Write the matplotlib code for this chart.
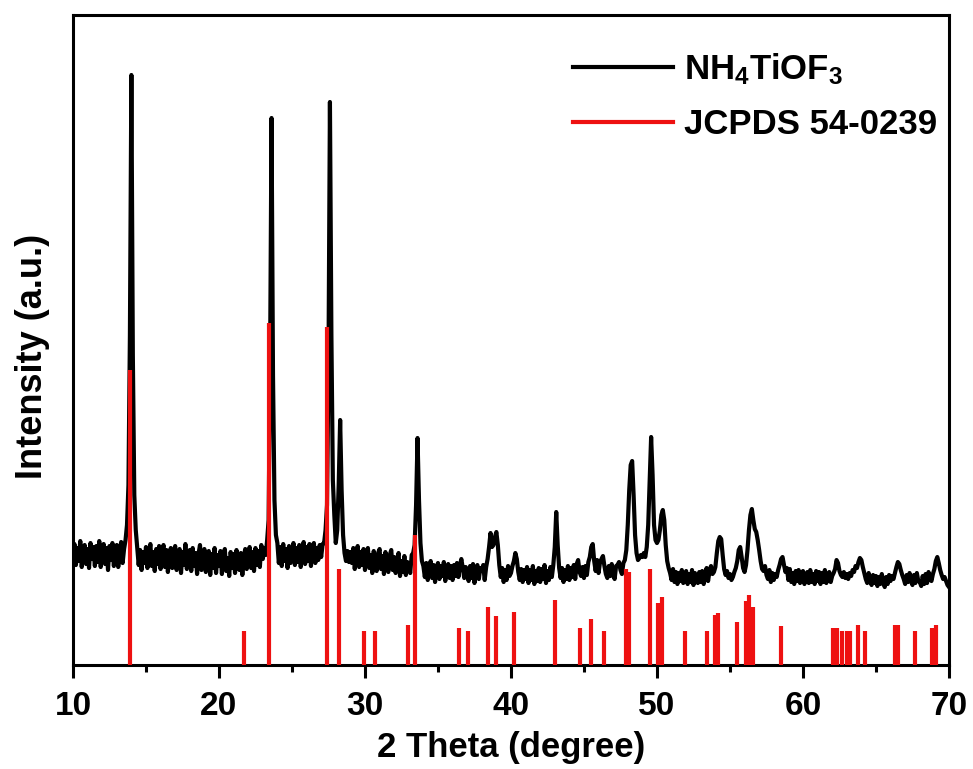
import numpy as np
import matplotlib
matplotlib.use("Agg")
import matplotlib.pyplot as plt
from matplotlib.ticker import MultipleLocator

plt.rcParams["font.family"] = ["Liberation Sans", "DejaVu Sans"]
plt.rcParams["font.weight"] = "bold"
plt.rcParams["mathtext.fontset"] = "custom"
plt.rcParams["mathtext.rm"] = "Liberation Sans:bold"
plt.rcParams["mathtext.bf"] = "Liberation Sans:bold"
plt.rcParams["mathtext.default"] = "bf"

# measured pattern, 2theta from 10.0 to 70.0 in 0.1 deg steps (one row per degree)
two_theta = np.round(np.arange(10.0, 70.05, 0.1), 1)
intensity = [
    108, 121, 100, 117, 104, 124, 98, 113, 120, 101,
    116, 97, 122, 106, 118, 99, 119, 103, 124, 98,
    114, 121, 101, 117, 95, 119, 105, 122, 99, 115,
    120, 98, 112, 123, 102, 116, 125, 140, 180, 330,
    590, 310, 170, 135, 118, 100, 115, 95, 113, 102,
    118, 97, 110, 121, 99, 113, 94, 116, 101, 119,
    96, 112, 120, 98, 115, 93, 109, 117, 97, 111,
    119, 95, 110, 116, 92, 113, 100, 121, 96, 109,
    115, 94, 117, 99, 112, 91, 111, 120, 95, 108,
    116, 93, 109, 114, 90, 111, 97, 117, 92, 110,
    99, 114, 91, 109, 116, 94, 107, 89, 113, 97,
    111, 92, 115, 98, 95, 112, 90, 108, 116, 96,
    103, 118, 97, 113, 94, 117, 100, 114, 98, 120,
    106, 117, 110, 125, 145, 300, 547, 290, 165, 130,
    122, 102, 118, 99, 121, 104, 116, 97, 119, 102,
    107, 122, 100, 117, 103, 120, 98, 115, 123, 101,
    118, 104, 121, 99, 116, 122, 102, 117, 105, 120,
    108, 121, 122, 135, 160, 300, 563, 330, 185, 150,
    122, 135, 180, 245, 175, 130, 112, 104, 114, 103,
    113, 102, 117, 96, 111, 119, 98, 113, 100, 116,
    95, 111, 117, 97, 110, 92, 114, 99, 94, 112,
    116, 96, 109, 91, 113, 98, 93, 110, 115, 95,
    108, 92, 105, 112, 89, 104, 93, 109, 90, 103,
    98, 92, 110, 112, 120, 160, 227, 165, 122, 104,
    99, 88, 102, 85, 98, 104, 87, 100, 83, 97,
    102, 86, 99, 89, 103, 84, 98, 101, 87, 99,
    85, 100, 89, 102, 88, 99, 106, 97, 87, 98,
    95, 84, 99, 87, 101, 82, 96, 100, 86, 97,
    94, 100, 85, 98, 106, 118, 132, 118, 120, 128,
    133, 120, 100, 88, 97, 83, 95, 85, 99, 89,
    92, 99, 104, 112, 106, 93, 85, 96, 83, 95,
    86, 98, 82, 95, 85, 99, 81, 94, 84, 97,
    83, 96, 86, 100, 82, 94, 85, 98, 88, 100,
    118, 153, 120, 97, 87, 97, 83, 95, 86, 99,
    85, 97, 88, 100, 86, 101, 105, 93, 89, 98,
    87, 99, 90, 103, 108, 118, 121, 104, 94, 105,
    92, 103, 106, 109, 99, 91, 87, 99, 89, 101,
    90, 86, 99, 100, 103, 95, 91, 102, 105, 115,
    140, 175, 200, 204, 170, 130, 112, 105, 107, 110,
    108, 112, 108, 118, 140, 185, 228, 190, 140, 125,
    122, 125, 135, 150, 155, 145, 120, 104, 97, 92,
    85, 96, 83, 93, 81, 92, 84, 95, 82, 91,
    94, 81, 91, 83, 95, 80, 92, 84, 82, 93,
    83, 94, 81, 91, 97, 84, 94, 99, 91, 93,
    98, 112, 124, 128, 126, 110, 96, 90, 94, 87,
    91, 85, 88, 93, 97, 104, 115, 118, 108, 97,
    93, 100, 115, 135, 150, 156, 145, 136, 133, 125,
    115, 104, 96, 94, 99, 90, 86, 95, 83, 92,
    85, 91, 88, 95, 100, 106, 108, 100, 93, 97,
    85, 96, 83, 92, 81, 94, 84, 95, 82, 91,
    94, 81, 90, 93, 82, 95, 83, 91, 81, 94,
    84, 93, 81, 92, 83, 95, 82, 90, 93, 83,
    89, 92, 96, 105, 102, 94, 90, 88, 93, 87,
    91, 86, 92, 89, 95, 93, 99, 97, 103, 107,
    105, 98, 92, 86, 82, 92, 84, 80, 90, 82,
    89, 79, 88, 81, 91, 83, 78, 88, 81, 90,
    84, 89, 86, 92, 98, 103, 101, 95, 90, 86,
    81, 90, 83, 92, 84, 80, 90, 82, 92, 84,
    83, 79, 89, 81, 91, 82, 93, 87, 84, 91,
    96, 104, 108, 102, 95, 90, 86, 88, 84, 80,
    78,
]

# reference card JCPDS 54-0239: line positions and relative heights
ref_pos = [13.9, 21.7, 23.45, 27.4, 28.2, 29.9, 30.7, 32.95, 33.45, 36.45,
           37.05, 38.45, 38.95, 40.2, 43.0, 44.7, 45.5, 46.4, 47.9, 48.1,
           49.5, 50.1, 50.35, 51.9, 53.4, 54.0, 54.2, 55.5, 56.1, 56.3,
           56.6, 58.5, 62.05, 62.3, 62.7, 63.0, 63.25, 63.8, 64.25, 66.3,
           66.5, 67.7, 68.85, 69.1]
ref_int = [295, 34, 342, 338, 96, 34, 34, 40, 130, 37,
           34, 58, 49, 53, 65, 37, 46, 34, 96, 93,
           96, 62, 68, 34, 34, 50, 52, 43, 64, 70,
           58, 39, 37, 37, 34, 34, 34, 40, 34, 40,
           40, 34, 37, 40]

fig = plt.figure(figsize=(9.73, 7.69), dpi=100)
ax = fig.add_axes([0.075, 0.1352, 0.9003, 0.8453])

ax.plot(two_theta, intensity, color="black", lw=3.0, label="NH$_4$TiOF$_3$", zorder=2)
ax.vlines(ref_pos, 0, ref_int, color="#ee1111", lw=3.0, zorder=3)
ax.plot([], [], color="#ee1111", lw=3.0, label="JCPDS 54-0239")

ax.set_xlim(10, 70)
ax.set_ylim(0, 650)
ax.set_yticks([])
ax.xaxis.set_major_locator(MultipleLocator(10))
ax.xaxis.set_minor_locator(MultipleLocator(5))
ax.tick_params(axis="x", which="major", direction="out", length=9, width=2.2,
               labelsize=24, pad=10)
ax.tick_params(axis="x", which="minor", direction="out", length=5, width=2.2)
for s in ax.spines.values():
    s.set_linewidth(2.2)

ax.set_xlabel("2 Theta (degree)", fontsize=25, fontweight="bold", labelpad=6)
ax.set_ylabel("Intensity (a.u.)", fontsize=26, fontweight="bold")
ax.yaxis.set_label_coords(-0.026, 0.475)

leg = ax.legend(loc="upper right", bbox_to_anchor=(1.022, 0.992), frameon=False,
                fontsize=25, handlelength=2.9, handletextpad=0.3, labelspacing=0.6)

fig.savefig("out.png", dpi=100)
